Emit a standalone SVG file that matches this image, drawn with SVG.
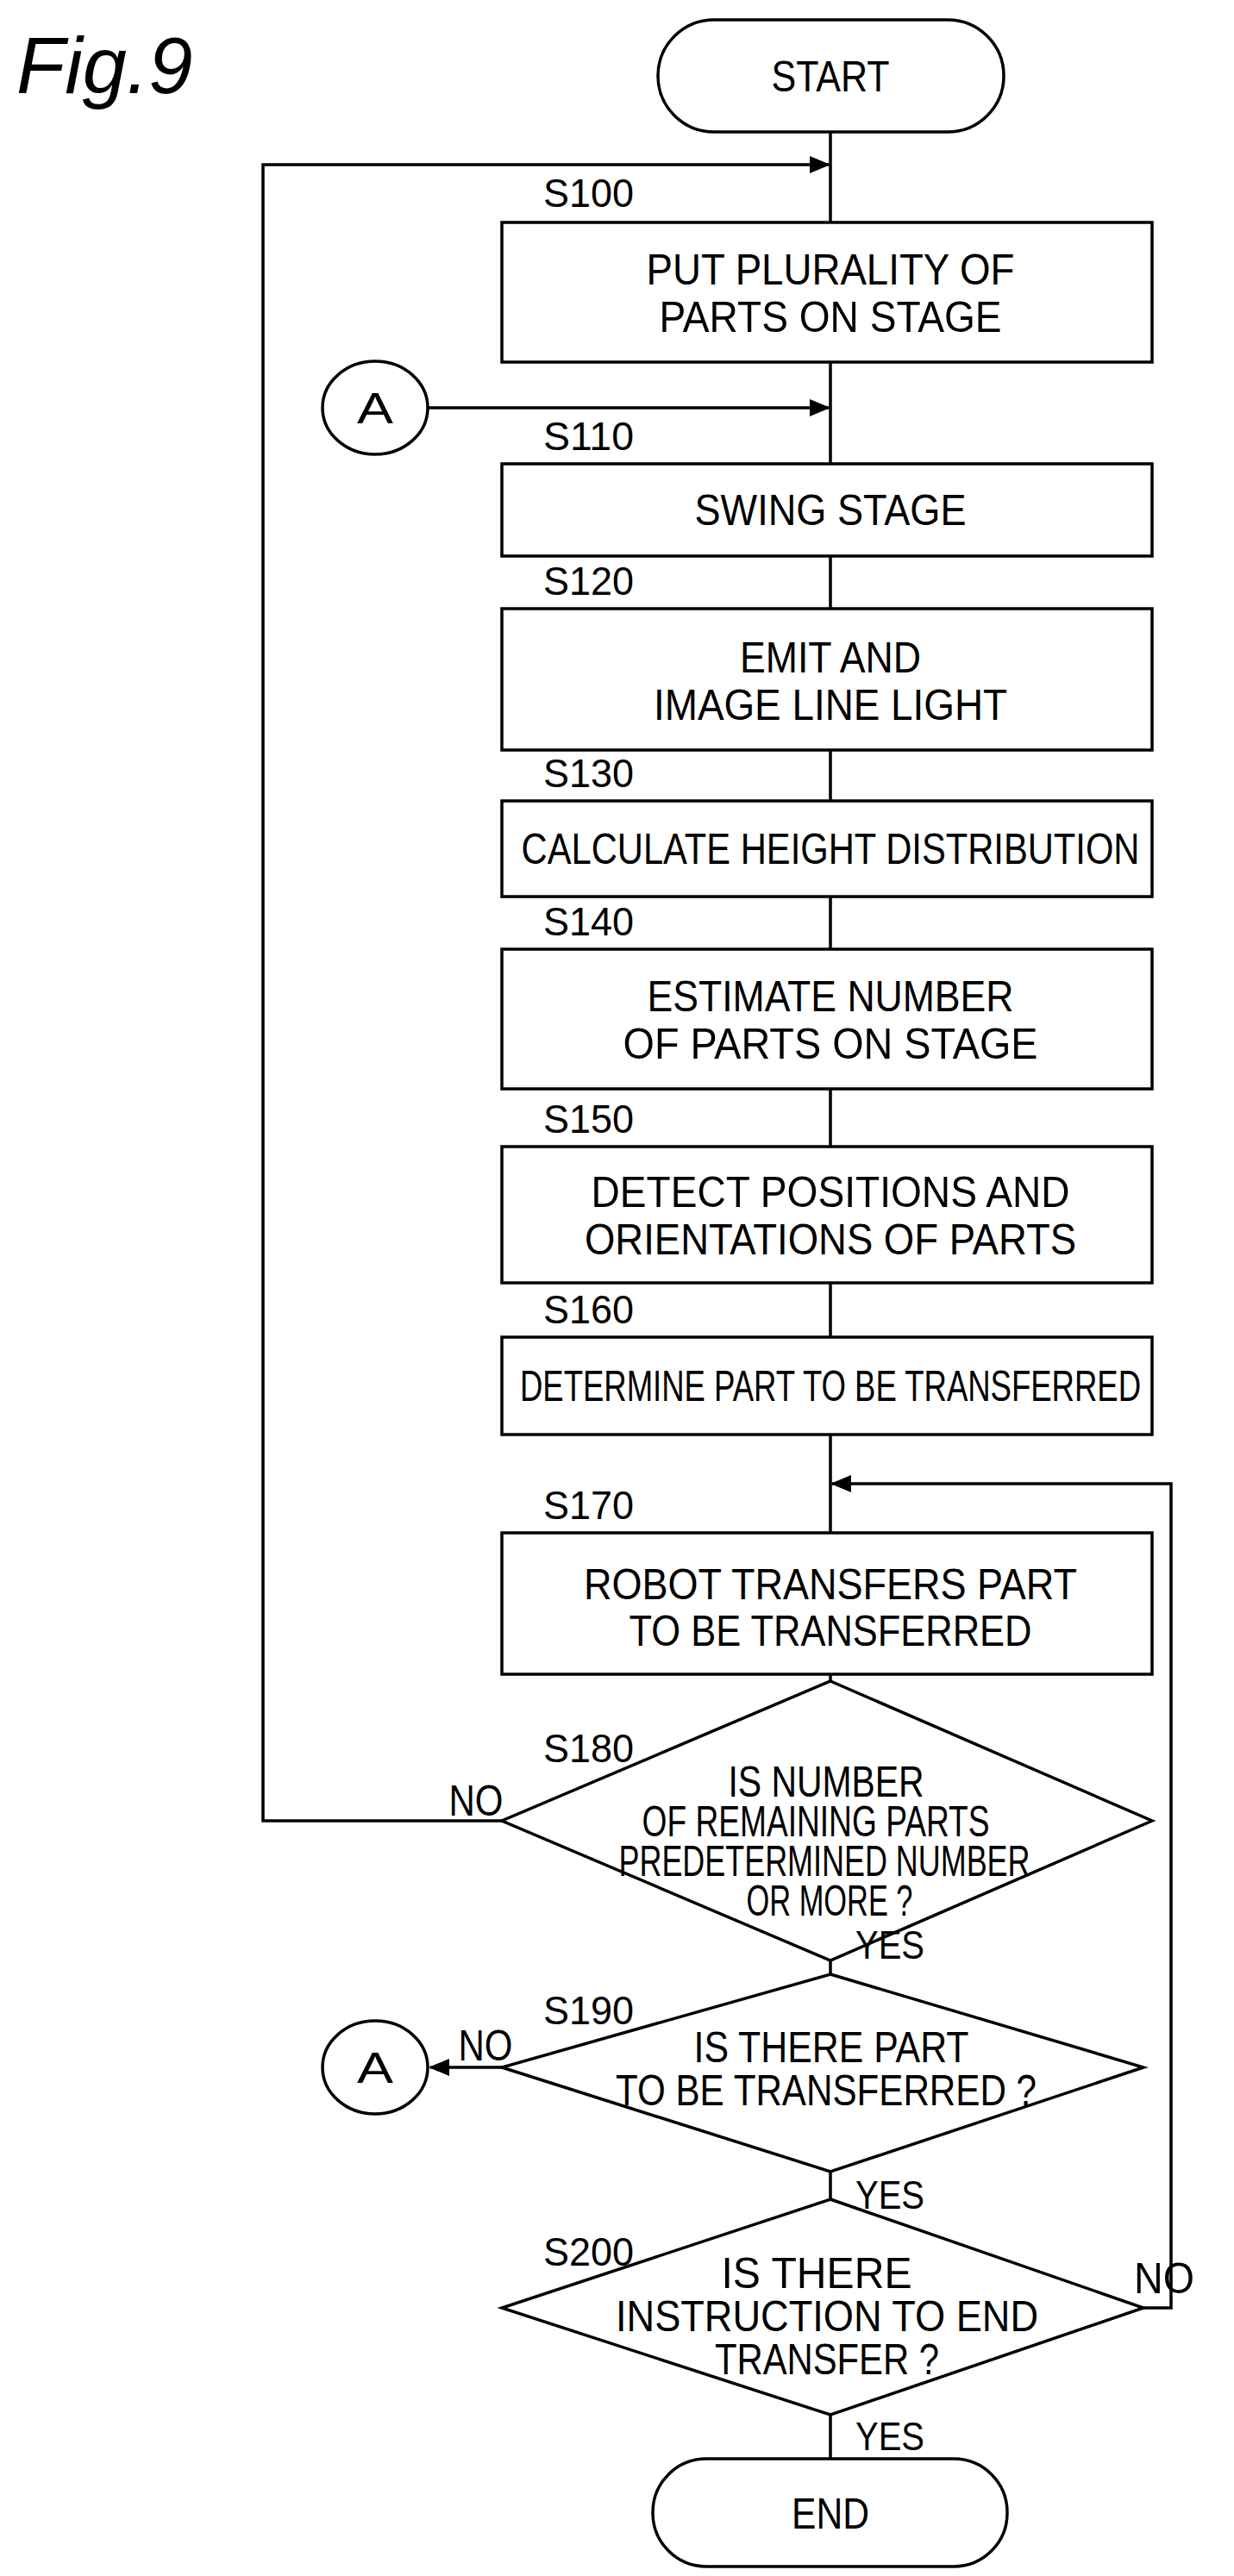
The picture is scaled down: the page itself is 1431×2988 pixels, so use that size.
<svg xmlns="http://www.w3.org/2000/svg" width="1431" height="2988" viewBox="0 0 1431 2988">
<style>
.s{fill:#fff;stroke:#000;stroke-width:3.5}
.l{fill:none;stroke:#000;stroke-width:3.5}
text{font-family:"Liberation Sans",Arial,sans-serif;font-size:50px;fill:#000;text-anchor:middle}
.lb{text-anchor:start;font-size:46px}
</style>
<defs><marker id="ar2" markerWidth="24" markerHeight="20" refX="22" refY="10" orient="auto" markerUnits="userSpaceOnUse" viewBox="0 0 24 20"><path d="M0,0 L24,10 L0,20 Z" fill="#000"/></marker></defs>
<text x="19" y="108" style="font-size:92px;font-style:italic;text-anchor:start">Fig.9</text>
<g id="connectors">
<path class="l" d="M963 153 V258 M963 420 V538 M963 645 V706 M963 870 V929 M963 1040 V1101 M963 1263 V1330 M963 1488 V1551 M963 1664 V1778 M963 1942 V1950 M963 2274 V2290 M963 2519 V2551 M963 2801 V2852"/>
<path class="l" d="M582 2112 H305 V191 H961" marker-end="url(#ar2)"/>
<path class="l" d="M497 473 H961" marker-end="url(#ar2)"/>
<path class="l" d="M1326 2677 H1358 V1721 H965" marker-end="url(#ar2)"/>
<path class="l" d="M582 2398 H499" marker-end="url(#ar2)"/>
</g>
<g id="start"><rect class="s" x="763" y="23" width="401" height="130" rx="65"/><text x="963" y="106" textLength="137" lengthAdjust="spacingAndGlyphs">START</text></g>
<g id="s100"><text class="lb" x="630" y="240" textLength="105" lengthAdjust="spacingAndGlyphs">S100</text><rect class="s" x="582" y="258" width="754" height="162"/><text x="963" y="330" textLength="427" lengthAdjust="spacingAndGlyphs">PUT PLURALITY OF</text><text x="963" y="385" textLength="397" lengthAdjust="spacingAndGlyphs">PARTS ON STAGE</text></g>
<g id="a1"><ellipse class="s" cx="435" cy="473" rx="61" ry="54"/><text x="435" y="491" textLength="42" lengthAdjust="spacingAndGlyphs">A</text></g>
<g id="s110"><text class="lb" x="630" y="522" textLength="105" lengthAdjust="spacingAndGlyphs">S110</text><rect class="s" x="582" y="538" width="754" height="107"/><text x="963" y="609" textLength="315" lengthAdjust="spacingAndGlyphs">SWING STAGE</text></g>
<g id="s120"><text class="lb" x="630" y="690" textLength="105" lengthAdjust="spacingAndGlyphs">S120</text><rect class="s" x="582" y="706" width="754" height="164"/><text x="963" y="780" textLength="210" lengthAdjust="spacingAndGlyphs">EMIT AND</text><text x="963" y="835" textLength="410" lengthAdjust="spacingAndGlyphs">IMAGE LINE LIGHT</text></g>
<g id="s130"><text class="lb" x="630" y="913" textLength="105" lengthAdjust="spacingAndGlyphs">S130</text><rect class="s" x="582" y="929" width="754" height="111"/><text x="963" y="1002" textLength="717" lengthAdjust="spacingAndGlyphs">CALCULATE HEIGHT DISTRIBUTION</text></g>
<g id="s140"><text class="lb" x="630" y="1085" textLength="105" lengthAdjust="spacingAndGlyphs">S140</text><rect class="s" x="582" y="1101" width="754" height="162"/><text x="963" y="1173" textLength="425" lengthAdjust="spacingAndGlyphs">ESTIMATE NUMBER</text><text x="963" y="1228" textLength="481" lengthAdjust="spacingAndGlyphs">OF PARTS ON STAGE</text></g>
<g id="s150"><text class="lb" x="630" y="1314" textLength="105" lengthAdjust="spacingAndGlyphs">S150</text><rect class="s" x="582" y="1330" width="754" height="158"/><text x="963" y="1400" textLength="555" lengthAdjust="spacingAndGlyphs">DETECT POSITIONS AND</text><text x="963" y="1455" textLength="570" lengthAdjust="spacingAndGlyphs">ORIENTATIONS OF PARTS</text></g>
<g id="s160"><text class="lb" x="630" y="1535" textLength="105" lengthAdjust="spacingAndGlyphs">S160</text><rect class="s" x="582" y="1551" width="754" height="113"/><text x="963" y="1625" textLength="720" lengthAdjust="spacingAndGlyphs">DETERMINE PART TO BE TRANSFERRED</text></g>
<g id="s170"><text class="lb" x="630" y="1762" textLength="105" lengthAdjust="spacingAndGlyphs">S170</text><rect class="s" x="582" y="1778" width="754" height="164"/><text x="963" y="1855" textLength="572" lengthAdjust="spacingAndGlyphs">ROBOT TRANSFERS PART</text><text x="963" y="1909" textLength="467" lengthAdjust="spacingAndGlyphs">TO BE TRANSFERRED</text></g>
<g id="s180"><polygon class="s" points="963,1950 1336,2112 963,2274 582,2112"/><text class="lb" x="630" y="2044" textLength="105" lengthAdjust="spacingAndGlyphs">S180</text><text x="958" y="2084" textLength="227" lengthAdjust="spacingAndGlyphs">IS NUMBER</text><text x="946" y="2130" textLength="403" lengthAdjust="spacingAndGlyphs">OF REMAINING PARTS</text><text x="956" y="2176" textLength="477" lengthAdjust="spacingAndGlyphs">PREDETERMINED NUMBER</text><text x="962" y="2222" textLength="193" lengthAdjust="spacingAndGlyphs">OR MORE ?</text><text x="552" y="2106" textLength="63" lengthAdjust="spacingAndGlyphs">NO</text><text class="lb" x="992" y="2272" textLength="80" lengthAdjust="spacingAndGlyphs">YES</text></g>
<g id="s190"><polygon class="s" points="963,2290 1326,2398 963,2519 582,2398"/><text class="lb" x="630" y="2348" textLength="105" lengthAdjust="spacingAndGlyphs">S190</text><text x="964" y="2392" textLength="319" lengthAdjust="spacingAndGlyphs">IS THERE PART</text><text x="958" y="2442" textLength="488" lengthAdjust="spacingAndGlyphs">TO BE TRANSFERRED ?</text><text x="563" y="2390" textLength="63" lengthAdjust="spacingAndGlyphs">NO</text><text class="lb" x="992" y="2562" textLength="80" lengthAdjust="spacingAndGlyphs">YES</text></g>
<g id="a2"><ellipse class="s" cx="435" cy="2398" rx="61" ry="54"/><text x="435" y="2416" textLength="42" lengthAdjust="spacingAndGlyphs">A</text></g>
<g id="s200"><polygon class="s" points="963,2551 1326,2677 963,2801 582,2677"/><text class="lb" x="630" y="2628" textLength="105" lengthAdjust="spacingAndGlyphs">S200</text><text x="947" y="2654" textLength="221" lengthAdjust="spacingAndGlyphs">IS THERE</text><text x="959" y="2704" textLength="490" lengthAdjust="spacingAndGlyphs">INSTRUCTION TO END</text><text x="959" y="2754" textLength="260" lengthAdjust="spacingAndGlyphs">TRANSFER ?</text><text x="1350" y="2660" textLength="70" lengthAdjust="spacingAndGlyphs">NO</text><text class="lb" x="992" y="2842" textLength="80" lengthAdjust="spacingAndGlyphs">YES</text></g>
<g id="end"><rect class="s" x="757" y="2852" width="411" height="125" rx="62"/><text x="963" y="2933" textLength="90" lengthAdjust="spacingAndGlyphs">END</text></g>
</svg>
